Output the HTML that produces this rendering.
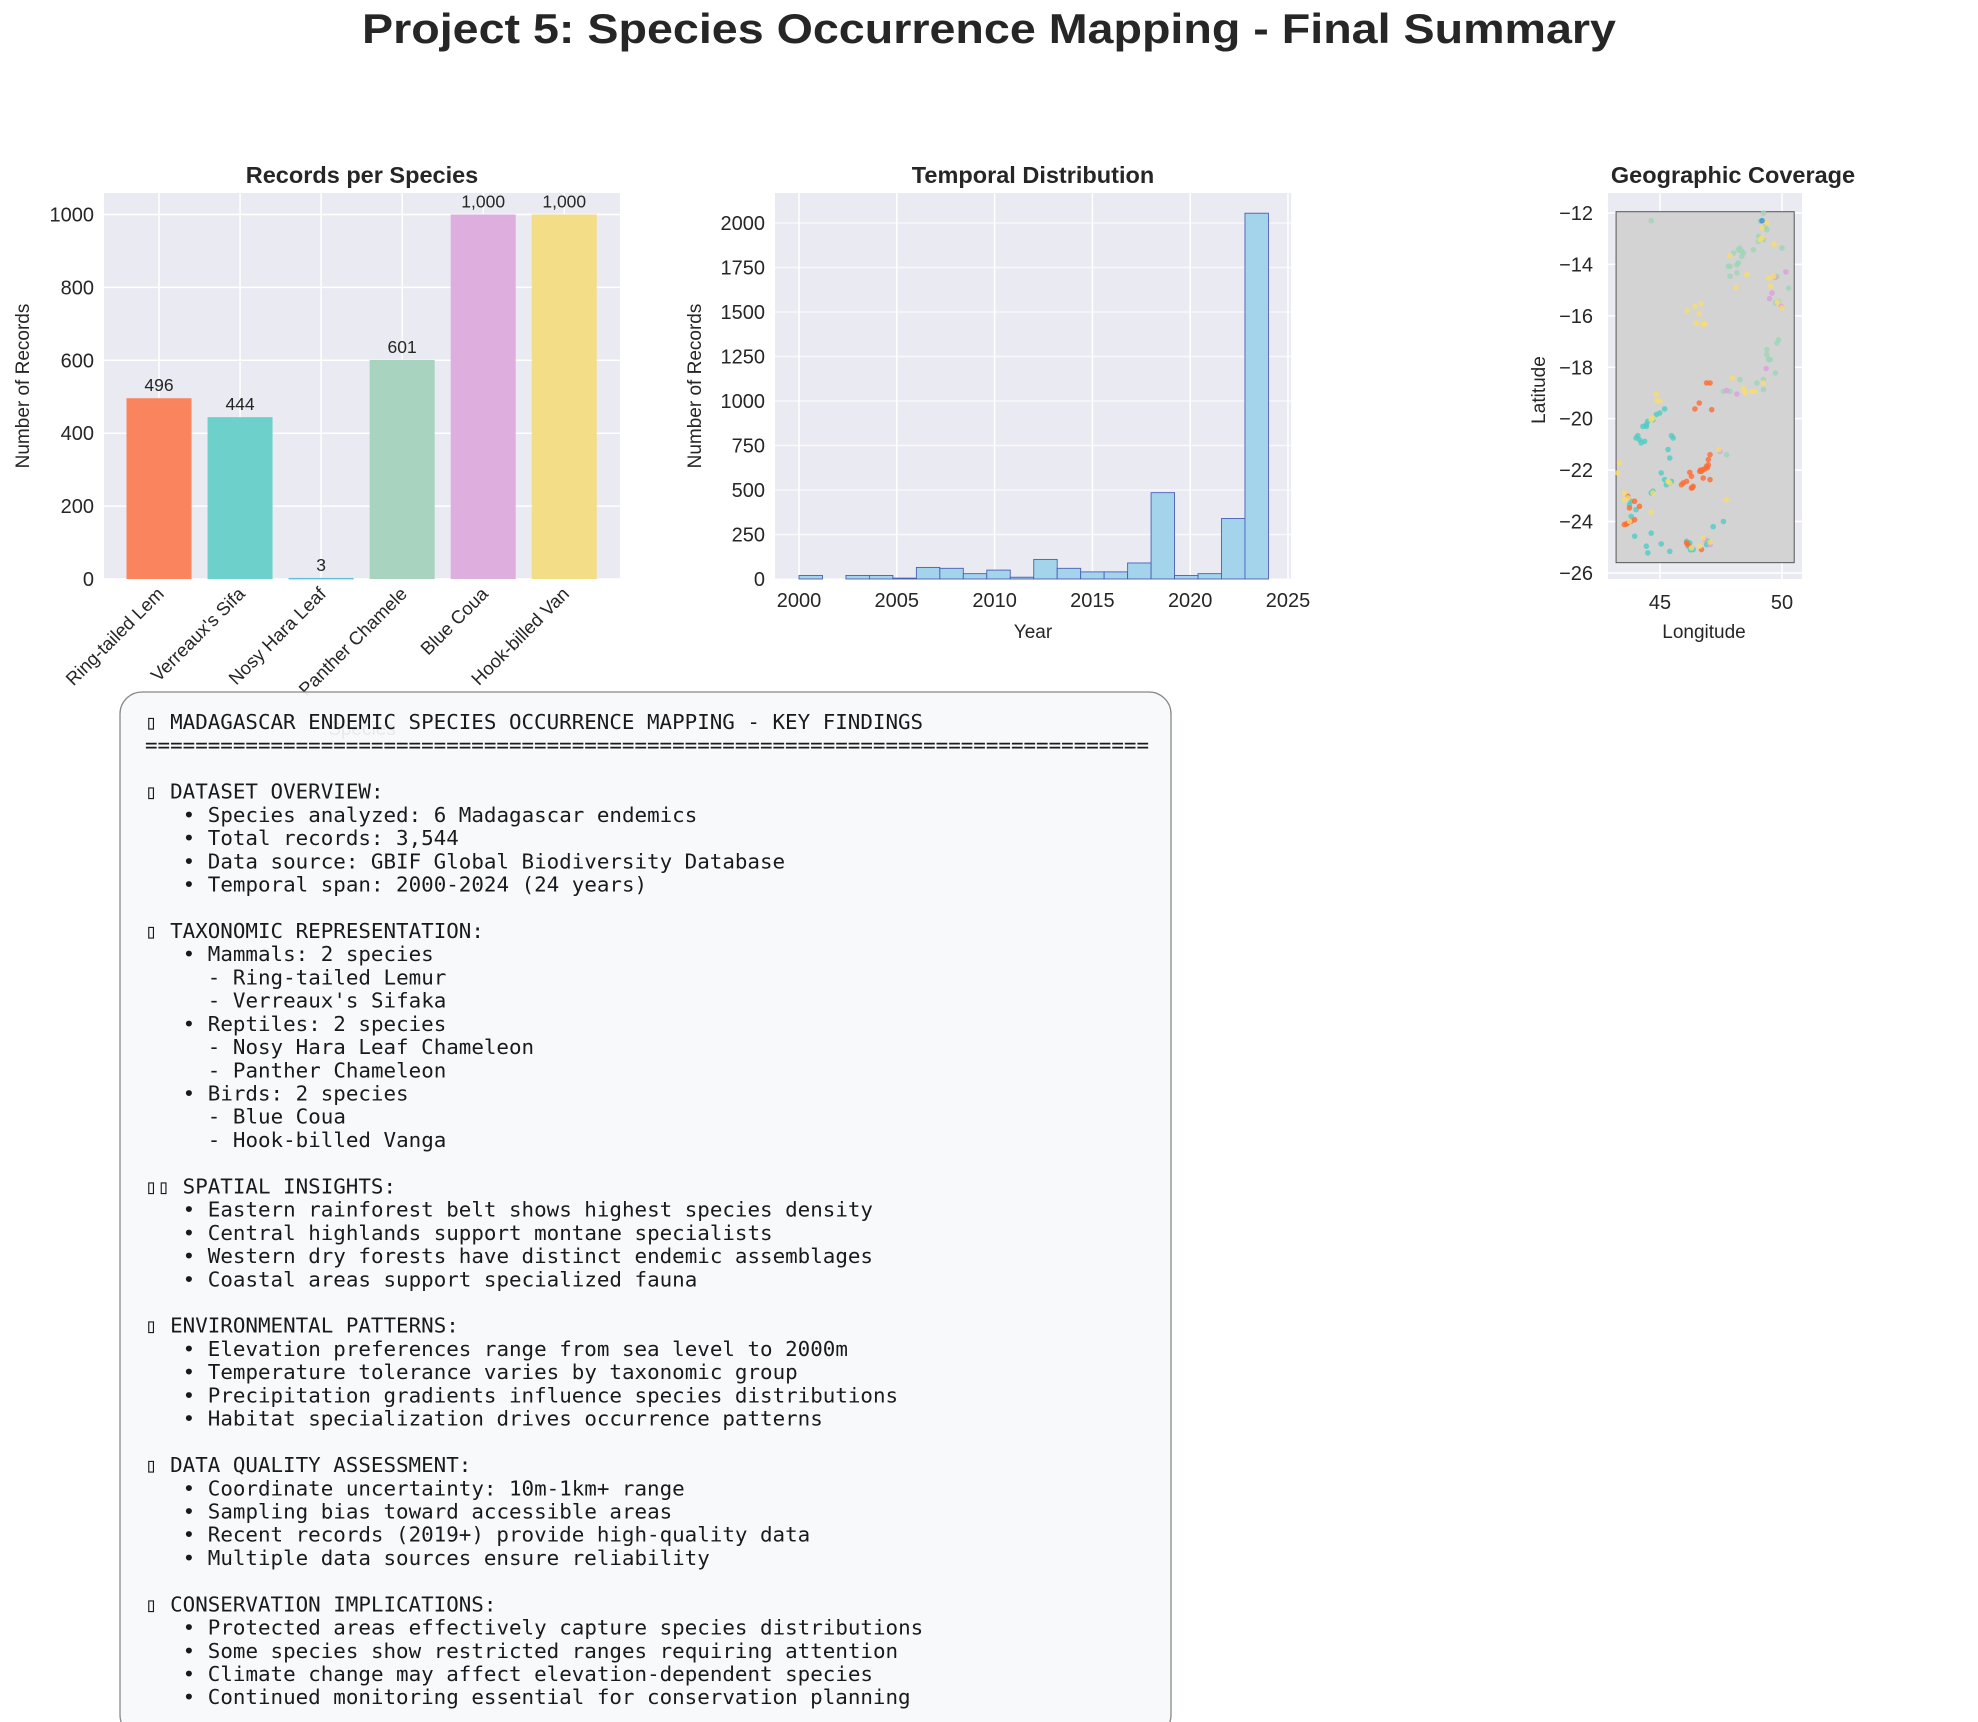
<!DOCTYPE html>
<html><head><meta charset="utf-8">
<style>
html,body{margin:0;padding:0;background:#fff;}
svg{display:block;}
text{font-family:"Liberation Sans",Arial,sans-serif;fill:#262626;}
.mono{font-family:"DejaVu Sans Mono","Liberation Mono",monospace;fill:#1a1a1a;white-space:pre;}
</style></head>
<body>
<svg id="fig" width="1978" height="1722" viewBox="0 0 1978 1722" xmlns="http://www.w3.org/2000/svg">
<text x="989" y="43" text-anchor="middle" font-weight="bold" font-size="42" textLength="1254" lengthAdjust="spacingAndGlyphs">Project 5: Species Occurrence Mapping - Final Summary</text>
<g id="bar"></g>
<g id="hist"></g>
<g id="map"></g>
<g id="box"></g>
</svg>
<script>
// ---- Bar chart data ----
const speciesLabels = ["Ring-tailed Lem","Verreaux's Sifa","Nosy Hara Leaf","Panther Chamele","Blue Coua","Hook-billed Van"];
const speciesCounts = [496,444,3,601,1000,1000];
const countLabels = ["496","444","3","601","1,000","1,000"];
const barTicks = [0,200,400,600,800,1000];
// ---- Histogram data ----
const binStarts = [2000,2001.2,2002.4,2003.6,2004.8,2006,2007.2,2008.4,2009.6,2010.8,2012,2013.2,2014.4,2015.6,2016.8,2018,2019.2,2020.4,2021.6,2022.8];
const binCounts = [20,0,20,20,5,65,60,30,50,10,110,60,40,40,90,485,20,30,340,2055];
const histYTicks = [0,250,500,750,1000,1250,1500,1750,2000];
const histXTicks = [2000,2005,2010,2015,2020,2025];
// ---- Map data (lon, lat) ----
const lemurPts = [[46.61,-19.39],[46.43,-19.62],[47.12,-19.65],[47.05,-21.4],[46.98,-21.59],[46.91,-21.85],[46.95,-21.9],[46.85,-21.95],[46.77,-21.98],[46.7,-22.05],[46.98,-21.79],[46.63,-22.05],[46.66,-22.0],[46.22,-22.09],[46.29,-22.24],[45.95,-22.5],[45.88,-22.57],[46.09,-22.44],[46.29,-22.7],[46.36,-22.63],[46.32,-22.68],[46.77,-22.31],[47.05,-22.37],[43.68,-23.02],[43.96,-23.21],[43.75,-23.47],[44.16,-23.41],[43.68,-24.06],[43.82,-23.99],[43.96,-23.93],[43.54,-24.12],[43.62,-24.1],[46.09,-24.83],[46.15,-24.9],[46.7,-25.09],[47.05,-18.61],[46.91,-18.61]];
const sifakaPts = [[44.71,-20.04],[44.5,-20.1],[44.44,-20.23],[44.3,-20.3],[44.85,-19.84],[44.99,-19.78],[45.19,-19.62],[44.44,-20.3],[44.09,-20.66],[44.02,-20.75],[44.16,-20.82],[44.23,-20.94],[44.37,-20.88],[45.47,-20.66],[45.54,-20.75],[45.33,-21.2],[45.4,-21.53],[45.05,-22.11],[45.19,-22.37],[45.26,-22.57],[45.47,-22.44],[45.4,-22.5],[44.71,-22.82],[44.64,-22.89],[43.82,-23.21],[43.75,-23.34],[44.02,-23.54],[43.82,-23.8],[44.64,-24.45],[43.96,-24.57],[44.44,-24.96],[44.5,-25.22],[45.05,-24.87],[45.4,-25.16],[46.22,-24.83],[46.29,-25.03],[46.36,-25.09],[46.15,-24.96],[46.25,-25.1],[46.91,-24.9],[46.98,-24.77],[46.09,-24.77],[47.18,-24.2],[47.6,-24.0]];
const chameleonPts = [[49.24,-12.0],[49.11,-12.32],[49.31,-12.52],[49.38,-12.65],[49.04,-12.91],[49.24,-13.04],[49.04,-13.1],[48.28,-13.36],[48.21,-13.43],[48.35,-13.49],[48.42,-13.56],[48.01,-13.56],[48.35,-13.69],[48.83,-13.43],[50.0,-13.36],[47.87,-14.07],[48.15,-14.01],[48.21,-13.94],[47.8,-14.07],[47.87,-14.46],[48.15,-14.33],[49.79,-14.46],[50.27,-14.92],[49.86,-15.44],[49.73,-15.5],[49.86,-16.93],[49.79,-17.06],[49.38,-17.31],[49.45,-17.7],[49.52,-17.7],[49.73,-18.22],[49.24,-18.48],[48.97,-18.61],[48.28,-18.48],[47.87,-18.94],[47.6,-18.94],[44.64,-12.3],[49.24,-18.87],[47.73,-21.4],[49.38,-17.51]];
const couaPts = [[49.73,-14.5],[50.16,-14.29],[49.59,-15.11],[49.49,-15.33],[49.97,-15.63],[49.35,-18.05],[48.15,-19.04],[47.73,-18.9],[47.46,-21.27],[46.84,-24.7],[47.05,-24.9]];
const vangaPts = [[49.18,-12.58],[49.38,-12.39],[49.18,-12.97],[49.11,-13.04],[49.68,-13.21],[47.87,-13.66],[48.56,-14.4],[48.12,-14.89],[49.45,-14.53],[49.66,-14.46],[49.52,-14.85],[49.82,-15.47],[50.0,-15.69],[46.7,-15.53],[46.43,-15.63],[46.12,-15.81],[46.61,-15.93],[46.5,-16.28],[46.77,-16.34],[46.84,-16.3],[47.97,-18.42],[48.42,-18.81],[48.49,-18.94],[48.5,-19.0],[48.76,-18.94],[48.9,-18.94],[49.24,-18.61],[44.85,-19.04],[44.88,-19.3],[44.99,-19.33],[44.64,-20.04],[44.71,-19.98],[47.42,-21.2],[43.34,-21.72],[43.27,-22.11],[45.4,-22.5],[45.33,-22.44],[44.71,-22.89],[43.54,-22.89],[43.68,-23.08],[43.54,-23.15],[44.64,-23.64],[43.75,-23.99],[47.73,-23.15],[46.29,-25.03],[46.77,-24.64],[47.05,-24.8],[46.63,-24.96]];
const blueDotPts = [[49.18,-12.3]];
const latTicks = [-12,-14,-16,-18,-20,-22,-24,-26];
const lonTicks = [45,50];

const NS="http://www.w3.org/2000/svg";
function mk(parent,tag,attrs,txt){const e=document.createElementNS(NS,tag);for(const k in attrs)e.setAttribute(k,attrs[k]);if(txt!==undefined)e.textContent=txt;parent.appendChild(e);return e;}

// ===== Bar chart =====
(function(){
  const g=document.getElementById('bar');
  const L=104,R=620,T=193,B=579;
  const y=v=>579-v*0.3645;
  const x=i=>159+i*81.05;
  const bg=mk(g,'rect',{x:L,y:T,width:R-L,height:B-T,fill:'#EAEAF2'});
  
  
  barTicks.forEach(t=>{
    mk(g,'line',{x1:L,x2:R,y1:y(t),y2:y(t),stroke:'#fff','stroke-width':1.5});
    const tl=mk(g,'text',{x:L-10,y:y(t)+7,'text-anchor':'end','font-size':20},String(t));
    
    
  });
  speciesLabels.forEach((s,i)=>mk(g,'line',{x1:x(i),x2:x(i),y1:T,y2:B,stroke:'#fff','stroke-width':1.5}));
  const cols=['#F9845E','#6DD0CA','#5FC3DF','#A8D3BE','#DEAEDF','#F3DD87'];
  speciesCounts.forEach((v,i)=>{
    const r=mk(g,'rect',{x:x(i)-32.5,y:y(v),width:65,height:Math.max(v*0.3645,1.5),fill:cols[i]});
    
    
    const t=mk(g,'text',{x:x(i),y:y(v)-7,'text-anchor':'middle','font-size':17.5},countLabels[i]);
    
    
  });
  speciesLabels.forEach((s,i)=>{
    const t=mk(g,'text',{x:x(i)+6,y:B+16,'text-anchor':'end','font-size':18.5,transform:`rotate(-45 ${x(i)+6} ${B+16})`},s);
    
    
  });
  const yl=mk(g,'text',{x:29,y:386,'text-anchor':'middle','font-size':19,transform:'rotate(-90 29 386)'},'Number of Records');
  
  
  const xl=mk(g,'text',{x:362,y:735,'text-anchor':'middle','font-size':19,fill:'#888'},'Species');
  
  
  const tt=mk(g,'text',{x:362,y:183,'text-anchor':'middle','font-size':23.5,'font-weight':'bold'},'Records per Species');
  
  
})();

// ===== Histogram =====
(function(){
  const g=document.getElementById('hist');
  const L=775,R=1291,T=193,B=579;
  const x=v=>799+(v-2000)*19.56;
  const y=v=>579-v*0.178;
  const bg=mk(g,'rect',{x:L,y:T,width:R-L,height:B-T,fill:'#EAEAF2'});
  
  
  histYTicks.forEach(t=>{
    mk(g,'line',{x1:L,x2:R,y1:y(t),y2:y(t),stroke:'#fff','stroke-width':1.5,opacity:0.7});
    const tl=mk(g,'text',{x:L-10,y:y(t)+7,'text-anchor':'end','font-size':20},String(t));
    
    
  });
  histXTicks.forEach(t=>{
    mk(g,'line',{x1:x(t),x2:x(t),y1:T,y2:B,stroke:'#fff','stroke-width':1.5});
    const tl=mk(g,'text',{x:x(t),y:B+28,'text-anchor':'middle','font-size':20},String(t));
    
    
  });
  binStarts.forEach((b,i)=>{
    if(binCounts[i]<=0)return;
    const r=mk(g,'rect',{x:x(b),y:y(binCounts[i]),width:x(b+1.2)-x(b),height:binCounts[i]*0.178,fill:'#A4D4EC',stroke:'#4B5FB5','stroke-width':0.9});
    
    
  });
  const yl=mk(g,'text',{x:701,y:386,'text-anchor':'middle','font-size':19,transform:'rotate(-90 701 386)'},'Number of Records');
  
  
  const xl=mk(g,'text',{x:1033,y:638,'text-anchor':'middle','font-size':19},'Year');
  
  
  const tt=mk(g,'text',{x:1033,y:183,'text-anchor':'middle','font-size':23.5,'font-weight':'bold'},'Temporal Distribution');
  
  
})();

// ===== Map =====
(function(){
  const g=document.getElementById('map');
  const L=1608,R=1802,T=193,B=579;
  const x=v=>1660+(v-45)*24.4;
  const y=v=>213+(-12-v)*25.71;
  const bg=mk(g,'rect',{x:L,y:T,width:R-L,height:B-T,fill:'#EAEAF2'});
  
  
  latTicks.forEach(t=>{
    mk(g,'line',{x1:L,x2:R,y1:y(t),y2:y(t),stroke:'#fff','stroke-width':1.5});
    const tl=mk(g,'text',{x:L-15,y:y(t)+7,'text-anchor':'end','font-size':20},'\u2212'+Math.abs(t));
    
    
  });
  lonTicks.forEach(t=>{
    mk(g,'line',{x1:x(t),x2:x(t),y1:T,y2:B,stroke:'#fff','stroke-width':1.5});
    const tl=mk(g,'text',{x:x(t),y:B+30,'text-anchor':'middle','font-size':20},String(t));
    
    
  });
  const land=mk(g,'rect',{x:x(43.2),y:y(-11.95),width:x(50.5)-x(43.2),height:y(-25.6)-y(-11.95),fill:'#D3D3D3',stroke:'#555','stroke-width':1});
  
  
  const sets=[[chameleonPts,'#9FD4B8'],[sifakaPts,'#4ECDC4'],[lemurPts,'#FF6B35'],[couaPts,'#DDA0DD'],[vangaPts,'#F7DC6F'],[blueDotPts,'#3A8FD8']];
  sets.forEach(([pts,c])=>pts.forEach(p=>{
    const d=mk(g,'circle',{cx:x(p[0]),cy:y(p[1]),r:2.8,fill:c,opacity:0.8});
    
    
  }));
  const yl=mk(g,'text',{x:1545,y:390,'text-anchor':'middle','font-size':19,transform:'rotate(-90 1545 390)'},'Latitude');
  
  
  const xl=mk(g,'text',{x:1704,y:638,'text-anchor':'middle','font-size':19},'Longitude');
  
  
  const tt=mk(g,'text',{x:1733,y:183,'text-anchor':'middle','font-size':23.5,'font-weight':'bold'},'Geographic Coverage');
  
  
})();

// ===== Findings box =====
(function(){
  const g=document.getElementById('box');
  const r=mk(g,'rect',{x:120,y:692,width:1051,height:1045,rx:22,ry:22,fill:'#F8F9FA','fill-opacity':0.93,stroke:'#888','stroke-width':1.3});
  
  
  const lines=[
"\u25AF MADAGASCAR ENDEMIC SPECIES OCCURRENCE MAPPING - KEY FINDINGS",
"================================================================================",
"",
"\u25AF DATASET OVERVIEW:",
"   \u2022 Species analyzed: 6 Madagascar endemics",
"   \u2022 Total records: 3,544",
"   \u2022 Data source: GBIF Global Biodiversity Database",
"   \u2022 Temporal span: 2000-2024 (24 years)",
"",
"\u25AF TAXONOMIC REPRESENTATION:",
"   \u2022 Mammals: 2 species",
"     - Ring-tailed Lemur",
"     - Verreaux's Sifaka",
"   \u2022 Reptiles: 2 species",
"     - Nosy Hara Leaf Chameleon",
"     - Panther Chameleon",
"   \u2022 Birds: 2 species",
"     - Blue Coua",
"     - Hook-billed Vanga",
"",
"\u25AF\u25AF SPATIAL INSIGHTS:",
"   \u2022 Eastern rainforest belt shows highest species density",
"   \u2022 Central highlands support montane specialists",
"   \u2022 Western dry forests have distinct endemic assemblages",
"   \u2022 Coastal areas support specialized fauna",
"",
"\u25AF ENVIRONMENTAL PATTERNS:",
"   \u2022 Elevation preferences range from sea level to 2000m",
"   \u2022 Temperature tolerance varies by taxonomic group",
"   \u2022 Precipitation gradients influence species distributions",
"   \u2022 Habitat specialization drives occurrence patterns",
"",
"\u25AF DATA QUALITY ASSESSMENT:",
"   \u2022 Coordinate uncertainty: 10m-1km+ range",
"   \u2022 Sampling bias toward accessible areas",
"   \u2022 Recent records (2019+) provide high-quality data",
"   \u2022 Multiple data sources ensure reliability",
"",
"\u25AF CONSERVATION IMPLICATIONS:",
"   \u2022 Protected areas effectively capture species distributions",
"   \u2022 Some species show restricted ranges requiring attention",
"   \u2022 Climate change may affect elevation-dependent species",
"   \u2022 Continued monitoring essential for conservation planning"];
  lines.forEach((s,i)=>{
    if(!s)return;
    const m=s.match(/^ */)[0].length;
    const body=s.slice(m);
    const t=mk(g,'text',{x:(145+m*12.55).toFixed(1),y:722+i*23.22+7,'font-size':20,class:'mono',textLength:(body.length*12.55).toFixed(1),lengthAdjust:'spacingAndGlyphs'},body);
    
    
  });
})();
</script>
</body></html>
